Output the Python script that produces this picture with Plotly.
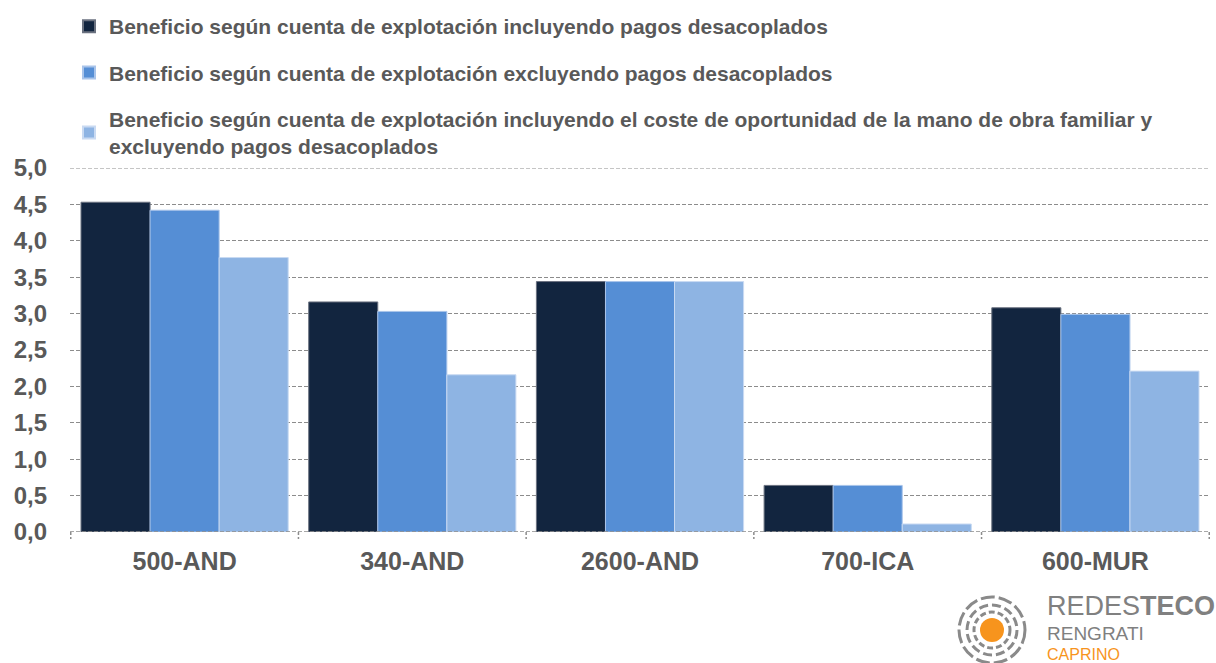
import plotly.graph_objects as go

categories = ["500-AND", "340-AND", "2600-AND", "700-ICA", "600-MUR"]
series_names = [
    "Beneficio según cuenta de explotación incluyendo pagos desacoplados",
    "Beneficio según cuenta de explotación excluyendo pagos desacoplados",
    "Beneficio según cuenta de explotación incluyendo el coste de oportunidad de la mano de obra familiar y<br>excluyendo pagos desacoplados",
]
incl_pagos = [4.53, 3.16, 3.44, 0.64, 3.08]
excl_pagos = [4.42, 3.03, 3.44, 0.64, 2.99]
coste_oport = [3.77, 2.16, 3.44, 0.11, 2.21]
y_ticks = [0, 0.5, 1.0, 1.5, 2.0, 2.5, 3.0, 3.5, 4.0, 4.5, 5.0]

colors = ["#12253F", "#558ED5", "#8EB4E3"]
line_colors = ["#6B7280", "#A9C4EA", "#C9DAF2"]
values = [incl_pagos, excl_pagos, coste_oport]

FONT = "Liberation Sans, Arial, sans-serif"
TXT = "#595959"
GRID = "#8C8C8C"

L, R, T, B = 70, 6, 168, 131
W, H = 1216, 663
PW, PH = W - L - R, H - T - B

def px(x):
    return (x - L) / PW
def py(y):
    return (H - B - y) / PH

fig = go.Figure()
for i in range(3):
    fig.add_trace(go.Bar(
        x=categories, y=values[i], name=series_names[i],
        legendgroup=f"g{i}",
        marker=dict(color=colors[i], line=dict(color=line_colors[i], width=1)),
    ))

fig.update_layout(
    width=W, height=H,
    margin=dict(l=L, r=R, t=T, b=B, autoexpand=False),
    paper_bgcolor="white", plot_bgcolor="white",
    barmode="group", bargap=0.09, bargroupgap=0,
    separators=",.",
    font=dict(family=FONT, color=TXT),
    legend=dict(
        x=px(69), y=py(6), xanchor="left", yanchor="top",
        font=dict(family=FONT, size=21, color=TXT, weight="bold"),
        tracegroupgap=16, itemsizing="constant",
        bgcolor="rgba(0,0,0,0)",
    ),
    xaxis=dict(
        showgrid=False, showline=False, automargin=False,
        ticks="", tickfont=dict(family=FONT, size=25, color=TXT, weight="bold"),
        ticklabelstandoff=12,
    ),
    yaxis=dict(
        range=[0, 5], tickvals=y_ticks, tickformat=".1f", automargin=False,
        showgrid=True, gridcolor=GRID, griddash="4px,2px", gridwidth=1.2,
        zeroline=False, showline=False, ticks="",
        tickfont=dict(family=FONT, size=24, color=TXT, weight="bold"),
        ticklabelstandoff=22,
    ),
)
# top gridline and dashed base line
for yv in (y_ticks[-1], y_ticks[0]):
    fig.add_shape(type="line", xref="paper", yref="y", x0=0, x1=1, y0=yv, y1=yv,
                  line=dict(color=GRID, width=1.5 if yv == 0 else 1.2, dash="4px,2px"))
# category boundary ticks
for k in range(len(categories) + 1):
    fig.add_shape(type="line", xref="x", yref="paper", x0=k - 0.5, x1=k - 0.5,
                  y0=0, y1=-7 / PH, line=dict(color=GRID, width=1.5, dash="3px,2px"))

# logo
cx, cy = 992, 630
for r, dash in [(33, "14px,4px"), (25, "9px,4px"), (18, "6px,3px")]:
    fig.add_shape(type="circle", xref="paper", yref="paper",
                  x0=px(cx - r), x1=px(cx + r), y0=py(cy + r), y1=py(cy - r),
                  line=dict(color="#8A8A8A", width=3, dash=dash))
r = 12
fig.add_shape(type="circle", xref="paper", yref="paper",
              x0=px(cx - r), x1=px(cx + r), y0=py(cy + r), y1=py(cy - r),
              fillcolor="#F7941D", line=dict(width=0))
fig.add_annotation(xref="paper", yref="paper", x=px(1045), y=py(606), xanchor="left", yanchor="middle",
                   text="REDES<b>TECO</b>", showarrow=False,
                   font=dict(family=FONT, size=27, color="#808080"))
fig.add_annotation(xref="paper", yref="paper", x=px(1045), y=py(633), xanchor="left", yanchor="middle",
                   text="RENGRATI", showarrow=False,
                   font=dict(family=FONT, size=19, color="#808080"))
fig.add_annotation(xref="paper", yref="paper", x=px(1045), y=py(654), xanchor="left", yanchor="middle",
                   text="CAPRINO", showarrow=False,
                   font=dict(family=FONT, size=16, color="#F7941D"))

fig.write_html("out.html", config={"displayModeBar": False},
               post_script="document.body.style.margin='0';document.body.style.overflow='hidden';")
